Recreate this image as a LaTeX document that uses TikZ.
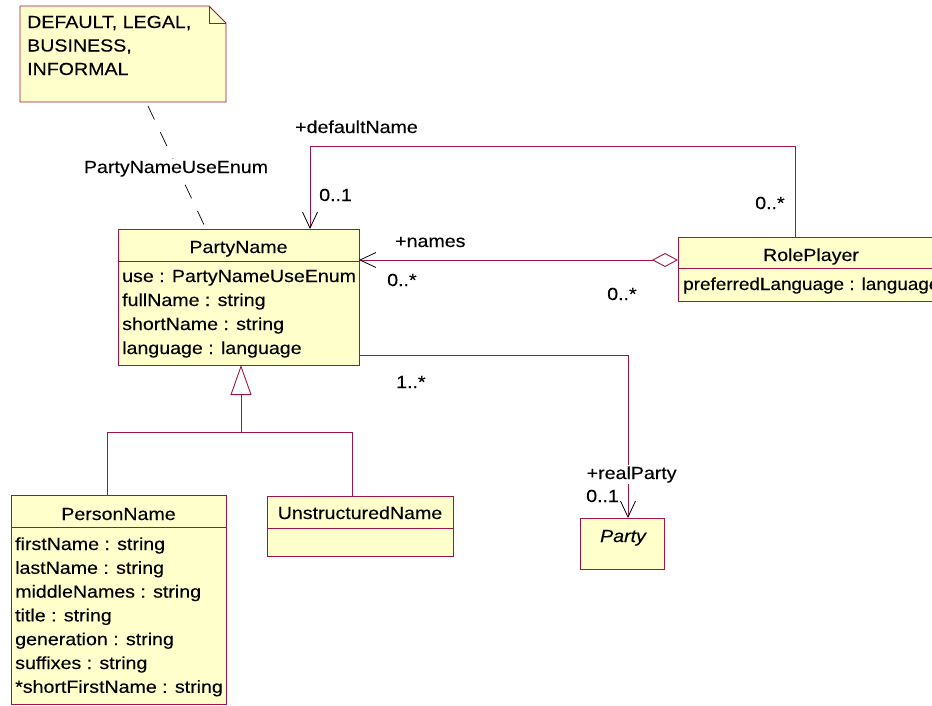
\documentclass[tikz,border=0pt]{standalone}
\usepackage{fontspec}
\setmainfont{Liberation Sans}[FakeStretch=1.12,FakeBold=0.2]
\usetikzlibrary{arrows.meta}
\definecolor{umlline}{RGB}{160,20,70}
\definecolor{umlfill}{RGB}{255,255,204}
\begin{document}
\begin{tikzpicture}[x=1pt,y=-1pt,
  font=\fontsize{17.5}{24}\selectfont,
  box/.style={draw=umlline, fill=umlfill, line width=0.9pt, anchor=north west, inner sep=0pt, outer sep=0pt},
  ghost/.style={draw=none, fill=none, anchor=north west, inner sep=0pt, outer sep=0pt},
  txt/.style={anchor=base west, inner sep=0pt},
  ctxt/.style={anchor=base, inner sep=0pt},
  lbl/.style={anchor=base west, inner sep=1.5pt, fill=white},
  assoc/.style={draw=umlline, line width=0.9pt},
  openarrow/.style={-{Straight Barb[length=16pt,width=15pt,color=black,line width=0.8pt]}}
]
\useasboundingbox (0,0) rectangle (932,705);

% ---- note ----
\node[ghost, minimum width=206pt, minimum height=96pt] (note) at (20,6) {};
\draw[box] (note.north west) -- ([xshift=-17pt]note.north east) -- ([yshift=-17pt]note.north east)
  -- (note.south east) -- (note.south west) -- cycle;
\draw[umlline, line width=0.9pt] ([xshift=-17pt]note.north east) -- ([xshift=-17pt,yshift=-17pt]note.north east) -- ([yshift=-17pt]note.north east);
\node[txt] (n1) at (27,28) {DEFAULT, LEGAL,};
\node[txt] (n2) at (27,51.5) {BUSINESS,};
\node[txt] (n3) at (27,75) {INFORMAL};

% ---- PartyName ----
\node[box, minimum width=241pt, minimum height=136pt] (pn) at (118,229) {};
\draw[assoc] ([yshift=-32pt]pn.north west) -- ([yshift=-32pt]pn.north east);
\node[ctxt] (pnT) at (238.5,253) {PartyName};
\node[txt] (pa1) at (122,282) {use : PartyNameUseEnum};
\node[txt] (pa2) at (122,306) {fullName : string};
\node[txt] (pa3) at (122,330) {shortName : string};
\node[txt] (pa4) at (122,354) {language : language};

% ---- RolePlayer ----
\node[box, minimum width=266pt, minimum height=64pt] (rp) at (678,237) {};
\draw[assoc] ([yshift=-31pt]rp.north west) -- ([yshift=-31pt]rp.north east);
\node[ctxt] (rpT) at (811,261) {RolePlayer};
\node[txt] (rpa) at (683,290) {\scalebox{0.965}[1]{preferredLanguage : language}};

% ---- PersonName ----
\node[box, minimum width=215pt, minimum height=209pt] (pers) at (11,495) {};
\draw[assoc] ([yshift=-32pt]pers.north west) -- ([yshift=-32pt]pers.north east);
\node[ctxt] (persT) at (118.5,520) {PersonName};
\node[txt] (e1) at (15,550) {firstName : string};
\node[txt] (e2) at (15,573.8) {lastName : string};
\node[txt] (e3) at (15,597.6) {middleNames : string};
\node[txt] (e4) at (15,621.4) {title : string};
\node[txt] (e5) at (15,645.2) {generation : string};
\node[txt] (e6) at (15,669) {suffixes : string};
\node[txt] (e7) at (15,692.8) {*shortFirstName : string};

% ---- UnstructuredName ----
\node[box, minimum width=186pt, minimum height=60pt] (uns) at (267,496) {};
\draw[assoc] ([yshift=-32pt]uns.north west) -- ([yshift=-32pt]uns.north east);
\node[ctxt] (unsT) at (360,519) {UnstructuredName};

% ---- Party ----
\node[box, minimum width=84pt, minimum height=51pt] (party) at (580,518) {};
\node[ctxt] (partyT) at (623,542) {\itshape Party};

% ---- note anchor ----
\draw[black, line width=0.7pt, dash pattern=on 15pt off 14pt] ([xshift=128pt,yshift=-4pt]note.south west) -- ([xshift=88pt]pn.north west);
\node[anchor=base, inner sep=2pt, fill=white] (enumlbl) at (176,173) {PartyNameUseEnum};

% ---- defaultName ----
\draw[assoc, openarrow] ([xshift=117pt]rp.north west) |- ([xshift=192pt,yshift=83pt]pn.north west) -- ([xshift=192pt]pn.north west);
\node[txt] (l1) at (295,133) {+defaultName};
\node[txt] (l2) at (319,201) {0..1};
\node[txt] (l3) at (755,209) {0..*};

% ---- names ----
\draw[assoc, {Diamond[fill=white,length=26pt,width=14pt]}-{Straight Barb[length=16pt,width=15pt,color=black,line width=0.8pt]}]
  ([yshift=-23pt]rp.north west) -- ([yshift=-31pt]pn.north east);
\node[txt] (l4) at (395,247) {+names};
\node[txt] (l5) at (387,286) {0..*};
\node[txt] (l6) at (607,300) {0..*};

% ---- realParty ----
\draw[assoc, openarrow] ([yshift=-126pt]pn.north east) -| ([xshift=48pt]party.north west);
\node[txt] (l7) at (396,388) {1..*};
\node[lbl] (l8) at (585,479) {+realParty};
\node[txt] (l9) at (586,502) {0..1};

% ---- generalization ----
\coordinate (gj) at (241,432);
\draw[assoc] ([xshift=96pt]pers.north west) |- (gj);
\draw[assoc] ([xshift=85pt]uns.north west) |- (gj);
\draw[assoc, -{Triangle[fill=white,length=30pt,width=21pt]}] (gj) -- ([xshift=123pt]pn.south west);
\end{tikzpicture}
\end{document}
